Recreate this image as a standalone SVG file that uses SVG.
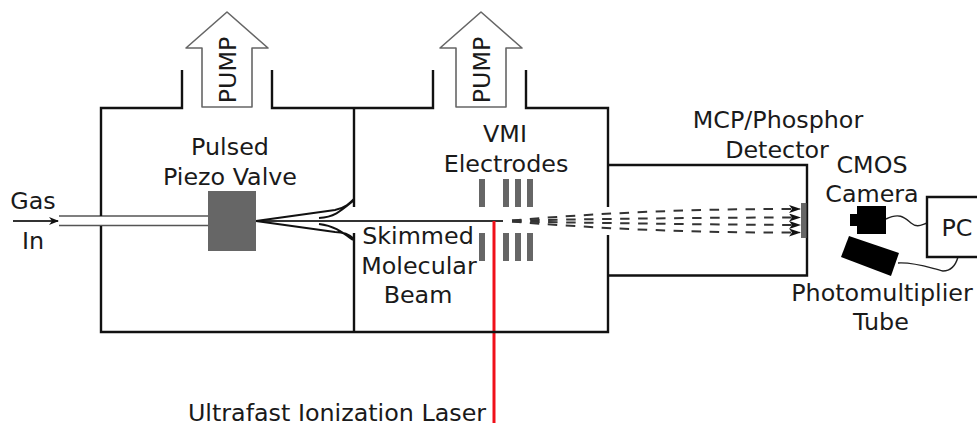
<svg xmlns="http://www.w3.org/2000/svg" width="977" height="423" viewBox="0 0 977 423">
<style>
text{font-family:"DejaVu Sans",Verdana,sans-serif;font-size:23.800px;fill:#1a1a1a;text-anchor:middle}
.w{fill:none;stroke:#111;stroke-width:2.400}
.t{fill:none;stroke:#111;stroke-width:2}
.c{fill:none;stroke:#222;stroke-width:1.400}
.g{fill:#666;stroke:none}
.p{fill:#fff;stroke:#666;stroke-width:1.600;stroke-linejoin:round}
.d{fill:none;stroke:#333;stroke-width:2;stroke-dasharray:9.500 8.500}
</style>
<defs>
<marker id="a" markerWidth="10" markerHeight="8" refX="9" refY="4" orient="auto" markerUnits="userSpaceOnUse"><path d="M0 0L10 4L0 8L3 4Z" fill="#111"/></marker>
<marker id="b" markerWidth="12" markerHeight="8" refX="11" refY="4" orient="auto" markerUnits="userSpaceOnUse"><path d="M0 0L12 4L0 8L3 4Z" fill="#111"/></marker>
</defs>
<g id="connectors">
<path class="d" marker-end="url(#b)" d="M512 220.500Q650 208.500 800 209"/>
<path class="d" marker-end="url(#b)" d="M512 220.500Q680 217.500 800 217.500"/>
<path class="d" marker-end="url(#b)" d="M512 221.500Q680 224.500 800 225"/>
<path class="d" marker-end="url(#b)" d="M512 221.500Q650 233 800 232.500"/>
<path d="M13 221H58" fill="none" stroke="#333" stroke-width="1.800" marker-end="url(#a)"/>
<path d="M256 221H503" fill="none" stroke="#333" stroke-width="1.800"/>
<path d="M494 221V423" fill="none" stroke="#f0101a" stroke-width="3"/>
<path d="M59 216H208M59 225.500H208" fill="none" stroke="#555" stroke-width="1.500"/>
<path class="c" d="M886 219C900 212 905 218 911 223C917 228 921 225 927 223"/>
<path class="c" d="M898 263C915 262 930 268 943 271C952 271 956 264 958 257"/>
</g>
<g id="chamber-source">
<path class="w" d="M182 70V108H101V216M101 226V332H354"/>
<path class="w" d="M272 70V108H354"/>
<path class="w" d="M354 108V207M354 233V332"/>
<path class="t" d="M256 221L335 210C345 208 350 203 354 199M319 218C335 217 342 210 353 201M256 221L335 232C345 232 350 235 354 239M319 224C335 226 342 232 353 240"/>
</g>
<g id="chamber-vmi">
<path class="w" d="M433 70V108H354M526 70V108H608V207M608 235V332H354"/>
</g>
<g id="detector-housing">
<path class="w" d="M608 165H807V275.500H608"/>
</g>
<g id="pump-1">
<path class="p" d="M227 12L268 48H252V107H202V48H186Z"/>
<text transform="translate(236 70) rotate(-90)">PUMP</text>
</g>
<g id="pump-2">
<path class="p" d="M481 12L522 48H506V107H456V48H440Z"/>
<text transform="translate(490 70) rotate(-90)">PUMP</text>
</g>
<g id="piezo-valve">
<rect class="g" x="208" y="191" width="48" height="60"/>
<text x="230" y="155">Pulsed</text>
<text x="230" y="185">Piezo Valve</text>
</g>
<g id="vmi-electrodes">
<rect class="g" x="479" y="179" width="6" height="28"/>
<rect class="g" x="503" y="179" width="6" height="28"/>
<rect class="g" x="515" y="179" width="6" height="28"/>
<rect class="g" x="527" y="179" width="6" height="28"/>
<rect class="g" x="479" y="233" width="6" height="28"/>
<rect class="g" x="503" y="233" width="6" height="28"/>
<rect class="g" x="515" y="233" width="6" height="28"/>
<rect class="g" x="527" y="233" width="6" height="28"/>
<text x="505" y="142">VMI</text>
<text x="506" y="172">Electrodes</text>
</g>
<g id="phosphor">
<rect class="g" x="801" y="203" width="5.500" height="35"/>
<text x="778" y="128">MCP/Phosphor</text>
<text x="777" y="158">Detector</text>
</g>
<g id="camera">
<path d="M857 206H886V234H857V226H850V214H857Z" fill="#000"/>
<text x="872" y="173">CMOS</text>
<text x="872" y="202">Camera</text>
</g>
<g id="pmt">
<path d="M849 236L899 253L891 276L841 257Z" fill="#000"/>
<text x="882" y="301">Photomultiplier</text>
<text x="881" y="330">Tube</text>
</g>
<g id="pc">
<path class="w" d="M977 197H927V257H977"/>
<text x="957" y="236">PC</text>
</g>
<g id="labels">
<text x="33" y="209">Gas</text>
<text x="33" y="249">In</text>
<text x="418" y="244">Skimmed</text>
<text x="419" y="274">Molecular</text>
<text x="418" y="303">Beam</text>
<text x="337" y="421">Ultrafast Ionization Laser</text>
</g>
</svg>
